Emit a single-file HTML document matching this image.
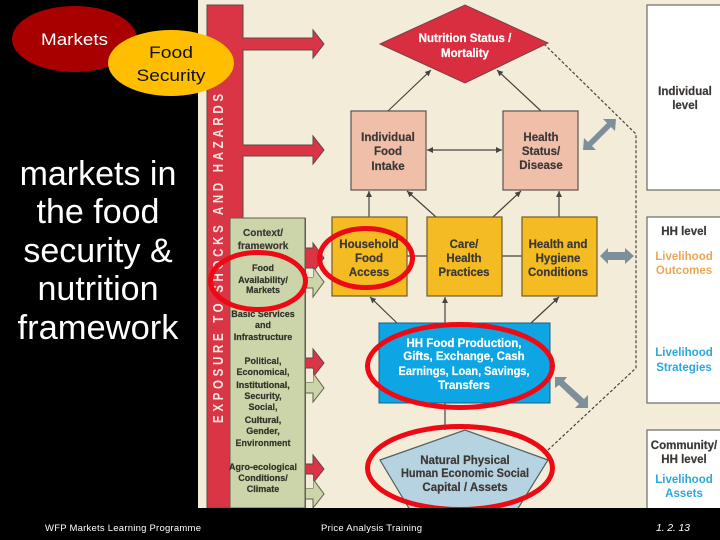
<!DOCTYPE html>
<html><head><meta charset="utf-8"><style>
html,body{margin:0;padding:0;background:#000}
svg{display:block}
text{font-family:"Liberation Sans",sans-serif}
.b{font-weight:bold;font-size:11.5px;text-anchor:middle;fill:#3c3836;stroke:#3c3836;stroke-width:.2px}
.s{font-weight:bold;font-size:9px;text-anchor:middle;fill:#33332a;stroke:#33332a;stroke-width:.2px}
.w{font-weight:bold;font-size:11.5px;text-anchor:middle;fill:#fff;stroke:#fff;stroke-width:.2px}
.o{font-weight:bold;font-size:11.5px;text-anchor:middle;fill:#eda658}
.l{font-weight:bold;font-size:11.5px;text-anchor:middle;fill:#2ba8de}
.big{font-size:34px;text-anchor:middle;fill:#fff}
.f{font-size:9.5px;fill:#fff}
.c{stroke:#454540;stroke-width:1.2;fill:none}
</style></head><body>
<svg width="720" height="540" viewBox="0 0 720 540" xmlns="http://www.w3.org/2000/svg">
<defs>
<marker id="a" markerWidth="7" markerHeight="7" refX="6" refY="3" orient="auto" markerUnits="userSpaceOnUse"><path d="M0 0L6 3L0 6Z" fill="#454540"/></marker>
<filter id="bl" x="0" y="0" width="100%" height="100%"><feGaussianBlur stdDeviation="0.35"/></filter>
</defs>
<rect width="720" height="540" fill="#000"/>
<g filter="url(#bl)">
<rect x="198" y="0" width="522" height="508" fill="#f3ecd8"/>

<!-- red bar and arrows -->
<g fill="#d93444" stroke="#5f4a48" stroke-width="1">
<path d="M207 5H243V38H313V30L324 44L313 58V50H243V145H313V136L324 150L313 164V156H243V218H230V508H207Z"/>
<path d="M305 248H313V243L324 258L313 272V268H305Z"/>
<path d="M305 358H313V349L324 363L313 377V368H305Z"/>
<path d="M305 464H313V455L324 469L313 483V474H305Z"/>
</g>
<g fill="#cbd5a9" stroke="#5f5f50" stroke-width="1">
<path d="M230 218H305V508H230Z"/>
<path d="M305 277H313V267L324 282L313 297V288H305Z"/>
<path d="M305 382H313V373L324 388L313 402V393H305Z"/>
<path d="M305 488H313V479L324 494L313 508V499H305Z"/>
</g>
<g fill="#f3ecd8"><rect x="306" y="269" width="7" height="8"/><rect x="306" y="369" width="7" height="13"/><rect x="306" y="475" width="7" height="13"/></g>
<rect x="305" y="218" width="1" height="290" fill="#5f5f50"/>
<text transform="translate(223 423) rotate(-90) scale(1 1.27)" x="0" y="0" font-size="11.500" font-weight="bold" fill="#f7e6e0" textLength="329" lengthAdjust="spacing">EXPOSURE TO SHOCKS AND HAZARDS</text>

<!-- white panels -->
<g fill="#fff" stroke="#6b6b66" stroke-width="1.2">
<rect x="647" y="5" width="80" height="185"/>
<rect x="647" y="217" width="80" height="186"/>
<rect x="647" y="430" width="80" height="90"/>
</g>

<!-- dashed -->
<path d="M544 44L636 134V368L548 450" fill="none" stroke="#45453f" stroke-width="1.2" stroke-dasharray="3 2"/>

<!-- connectors -->
<g class="c">
<path d="M388 111L431 70" marker-end="url(#a)"/>
<path d="M541 111L497 70" marker-end="url(#a)"/>
<path d="M369 217V191" marker-end="url(#a)"/>
<path d="M436 217L407 191" marker-end="url(#a)"/>
<path d="M493 217L521 191" marker-end="url(#a)"/>
<path d="M559 217V191" marker-end="url(#a)"/>
<path d="M465 150H427" marker-end="url(#a)"/>
<path d="M465 150H502" marker-end="url(#a)"/>
<path d="M407 256H427M502 256H522"/>
<path d="M397 323L370 297" marker-end="url(#a)"/>
<path d="M445 323V297" marker-end="url(#a)"/>
<path d="M531 323L559 297" marker-end="url(#a)"/>
<path d="M445 430V403"/>
</g>

<!-- shapes -->
<path d="M380 44L465 5L548 43L465 83Z" fill="#d92f40" stroke="#7a4145" stroke-width="1"/>
<g stroke="#5a5550" stroke-width="1.2" fill="#f0bfa9">
<rect x="351" y="111" width="75" height="79"/>
<rect x="503" y="111" width="75" height="79"/>
</g>
<g stroke="#6e5d2e" stroke-width="1.2" fill="#f5bb22">
<rect x="332" y="217" width="75" height="79"/>
<rect x="427" y="217" width="75" height="79"/>
<rect x="522" y="217" width="75" height="79"/>
</g>
<rect x="379" y="323" width="171" height="80" fill="#0ba5e3" stroke="#1f5f80" stroke-width="1"/>
<path d="M380 460L465 430L548 460L517 510H410Z" fill="#b6d3e2" stroke="#555f60" stroke-width="1.2"/>

<!-- gray double arrows -->
<g fill="#7e8f9b">
<path d="M583 150L584 138L588 142L607 123L603 119L616 119L615 131L611 127L592 146L596 150Z"/>
<path d="M600 256L608 248V252H625V248L634 256L625 264V260H608V264Z"/>
<path d="M555 377L567 377L564 381L584 399L588 395L588 408L575 408L579 404L559 385L555 388Z"/>
</g>

<!-- diagram text -->
<text class="w" x="465" y="42">Nutrition Status /</text>
<text class="w" x="465" y="57">Mortality</text>
<text class="b" x="388" y="141">Individual</text><text class="b" x="388" y="155">Food</text><text class="b" x="388" y="170">Intake</text>
<text class="b" x="541" y="141">Health</text><text class="b" x="541" y="155">Status/</text><text class="b" x="541" y="169">Disease</text>
<text class="b" x="369" y="248">Household</text><text class="b" x="369" y="262">Food</text><text class="b" x="369" y="276">Access</text>
<text class="b" x="464" y="248">Care/</text><text class="b" x="464" y="262">Health</text><text class="b" x="464" y="276">Practices</text>
<text class="b" x="558" y="248">Health and</text><text class="b" x="558" y="262">Hygiene</text><text class="b" x="558" y="276">Conditions</text>
<text class="w" x="464" y="347">HH Food Production,</text>
<text class="w" x="464" y="360">Gifts, Exchange, Cash</text>
<text class="w" x="464" y="375" textLength="131" lengthAdjust="spacingAndGlyphs">Earnings, Loan, Savings,</text>
<text class="w" x="464" y="389">Transfers</text>
<text class="b" x="465" y="464">Natural Physical</text>
<text class="b" x="465" y="477" textLength="128" lengthAdjust="spacingAndGlyphs">Human Economic Social</text>
<text class="b" x="465" y="491">Capital / Assets</text>

<!-- left panel text -->
<text class="b" x="263" y="236" style="font-size:10px">Context/</text>
<text class="b" x="263" y="249" style="font-size:10px">framework</text>
<text class="s" x="263" y="271">Food</text><text class="s" x="263" y="283">Availability/</text><text class="s" x="263" y="293">Markets</text>
<text class="s" x="263" y="317">Basic Services</text><text class="s" x="263" y="328">and</text><text class="s" x="263" y="340">Infrastructure</text>
<text class="s" x="263" y="364">Political,</text><text class="s" x="263" y="375">Economical,</text><text class="s" x="263" y="388">Institutional,</text><text class="s" x="263" y="399">Security,</text><text class="s" x="263" y="410">Social,</text><text class="s" x="263" y="423">Cultural,</text><text class="s" x="263" y="434">Gender,</text><text class="s" x="263" y="446">Environment</text>
<text class="s" x="263" y="470">Agro-ecological</text><text class="s" x="263" y="481">Conditions/</text><text class="s" x="263" y="492">Climate</text>

<!-- right text -->
<text class="b" x="685" y="95">Individual</text><text class="b" x="685" y="109">level</text>
<text class="b" x="684" y="235">HH level</text>
<text class="o" x="684" y="260">Livelihood</text><text class="o" x="684" y="274">Outcomes</text>
<text class="l" x="684" y="356">Livelihood</text><text class="l" x="684" y="371">Strategies</text>
<text class="b" x="684" y="449">Community/</text><text class="b" x="684" y="463">HH level</text>
<text class="l" x="684" y="483">Livelihood</text><text class="l" x="684" y="497">Assets</text>
</g>

<!-- red highlight ellipses -->
<g fill="none" stroke="#ee0a14" stroke-width="5">
<ellipse cx="258" cy="281" rx="47.500" ry="28.500"/>
<ellipse cx="366" cy="258" rx="46.500" ry="29.500"/>
<ellipse cx="460" cy="366" rx="92.500" ry="41.500"/>
<ellipse cx="460" cy="468" rx="92.500" ry="41.500"/>
</g>

<!-- footer band -->
<rect x="0" y="508" width="720" height="32" fill="#000"/>

<!-- left black side -->
<ellipse cx="74.500" cy="39" rx="62.500" ry="33" fill="#a80000"/>
<ellipse cx="171" cy="63" rx="63" ry="33" fill="#ffbf00"/>
<text x="41" y="45" font-size="16.500" fill="#fff" textLength="67" lengthAdjust="spacingAndGlyphs">Markets</text>
<text x="171" y="58" font-size="17" fill="#111" text-anchor="middle" textLength="44" lengthAdjust="spacingAndGlyphs">Food</text>
<text x="171" y="81" font-size="17" fill="#111" text-anchor="middle" textLength="69" lengthAdjust="spacingAndGlyphs">Security</text>
<text class="big" x="98" y="185">markets in</text>
<text class="big" x="98" y="223">the food</text>
<text class="big" x="98" y="262">security &amp;</text>
<text class="big" x="98" y="300">nutrition</text>
<text class="big" x="98" y="339" textLength="161" lengthAdjust="spacingAndGlyphs">framework</text>

<!-- footer -->
<text class="f" x="45" y="531" textLength="156" lengthAdjust="spacing">WFP Markets Learning Programme</text>
<text class="f" x="321" y="531" textLength="101" lengthAdjust="spacing">Price Analysis Training</text>
<text class="f" x="656" y="531" font-style="italic" style="font-size:10.500px" textLength="34" lengthAdjust="spacing">1. 2. 13</text>
</svg>
</body></html>
